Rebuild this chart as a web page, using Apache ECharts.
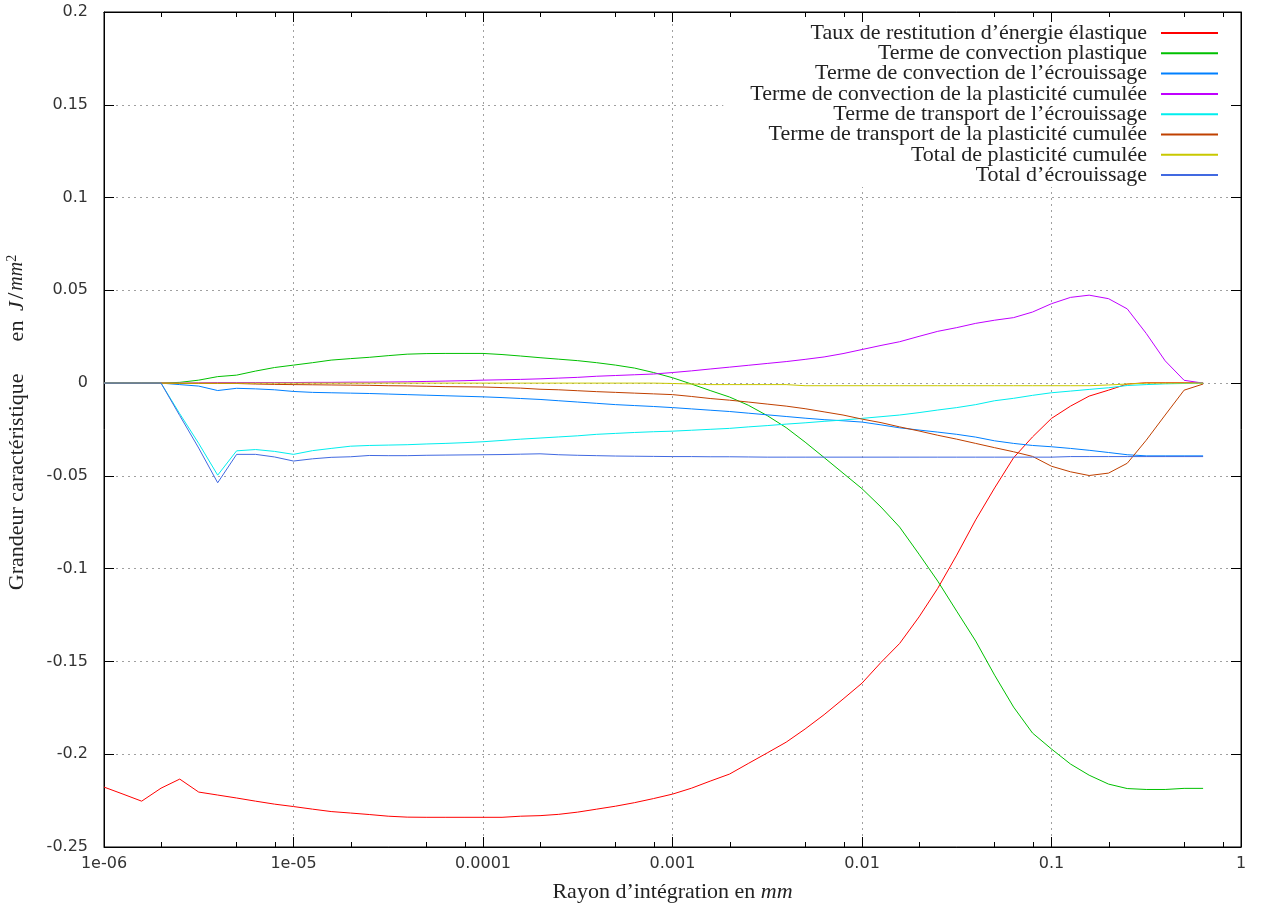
<!DOCTYPE html>
<html>
<head>
<meta charset="utf-8">
<script src="https://cdn.jsdelivr.net/npm/echarts@6/dist/echarts.min.js"></script>
<style>
html,body{margin:0;padding:0;background:#fff;}
#chart{width:1264px;height:909px;}
</style>
</head>
<body>
<div id="chart"></div>
<script>
// Sample radii (mm)
const X = [
  1e-6, 1.26e-6, 1.58e-6, 2.0e-6, 2.51e-6, 3.16e-6, 3.98e-6, 5.01e-6, 6.31e-6, 7.94e-6,
  1e-5, 1.26e-5, 1.58e-5, 2.0e-5, 2.51e-5, 3.16e-5, 3.98e-5, 5.01e-5, 6.31e-5, 7.94e-5,
  1e-4, 1.26e-4, 1.58e-4, 2.0e-4, 2.51e-4, 3.16e-4, 3.98e-4, 5.01e-4, 6.31e-4, 7.94e-4,
  1e-3, 1.26e-3, 1.58e-3, 2.0e-3, 2.51e-3, 3.16e-3, 3.98e-3, 5.01e-3, 6.31e-3, 7.94e-3,
  1e-2, 1.26e-2, 1.58e-2, 2.0e-2, 2.51e-2, 3.16e-2, 3.98e-2, 5.01e-2, 6.31e-2, 7.94e-2,
  0.1, 0.126, 0.158, 0.2, 0.251, 0.316, 0.398, 0.501, 0.631
];

const NAMES = [
  'Taux de restitution d’énergie élastique',
  'Terme de convection plastique',
  'Terme de convection de l’écrouissage',
  'Terme de convection de la plasticité cumulée',
  'Terme de transport de l’écrouissage',
  'Terme de transport de la plasticité cumulée',
  'Total de plasticité cumulée',
  'Total d’écrouissage'
];

const TAUX = [
  -0.2177, -0.2215, -0.2253, -0.2183, -0.2134, -0.2204, -0.2220, -0.2236, -0.2253, -0.2269,
  -0.2282, -0.2296, -0.2309, -0.2317, -0.2325, -0.2334, -0.2339, -0.2340, -0.2340, -0.2340,
  -0.2340, -0.2340, -0.2334, -0.2331, -0.2324, -0.2312, -0.2296, -0.2280, -0.2261, -0.2239,
  -0.2215, -0.2183, -0.2145, -0.2107, -0.2050, -0.1993, -0.1935, -0.1864, -0.1787, -0.1703,
  -0.1617, -0.1505, -0.1403, -0.1260, -0.1106, -0.0927, -0.0737, -0.0565, -0.0402, -0.0290,
  -0.0190, -0.0124, -0.0070, -0.0038, -0.0005, 0.0002, 0.0002, 0.0002, 0.0002
];

const CONV_PLAST = [
  0, 0, 0, 0, 0.0004, 0.0016, 0.0035, 0.0043, 0.0065, 0.0084,
  0.0097, 0.0110, 0.0124, 0.0132, 0.0139, 0.0148, 0.0156, 0.0159, 0.0160, 0.0160,
  0.0160, 0.0154, 0.0146, 0.0137, 0.0129, 0.0121, 0.0110, 0.0097, 0.0081, 0.0057,
  0.0029, -0.0005, -0.0040, -0.0075, -0.0119, -0.0175, -0.0240, -0.0318, -0.0401, -0.0485,
  -0.0569, -0.0668, -0.0776, -0.0922, -0.1067, -0.1229, -0.1390, -0.1574, -0.1746, -0.1886,
  -0.1972, -0.2053, -0.2113, -0.2161, -0.2185, -0.2190, -0.2190, -0.2184, -0.2184
];

const CONV_ECR = [
  0, 0, 0, 0, -0.0008, -0.0016, -0.0040, -0.0028, -0.0031, -0.0036,
  -0.0045, -0.0050, -0.0052, -0.0054, -0.0056, -0.0059, -0.0062, -0.0065, -0.0068, -0.0071,
  -0.0074, -0.0078, -0.0083, -0.0088, -0.0095, -0.0102, -0.0109, -0.0116, -0.0121, -0.0126,
  -0.0132, -0.0139, -0.0146, -0.0153, -0.0162, -0.0171, -0.0180, -0.0189, -0.0197, -0.0203,
  -0.0210, -0.0225, -0.0241, -0.0253, -0.0264, -0.0276, -0.0291, -0.0311, -0.0325, -0.0336,
  -0.0343, -0.0352, -0.0362, -0.0374, -0.0386, -0.0392, -0.0392, -0.0392, -0.0392
];

const CONV_PCUM = [
  0, 0, 0, 0, 0, 0.0002, 0.0003, 0.0003, 0.0003, 0.0003,
  0.0003, 0.0004, 0.0004, 0.0005, 0.0005, 0.0006, 0.0007, 0.0009, 0.0011, 0.0013,
  0.0016, 0.0018, 0.0020, 0.0023, 0.0027, 0.0031, 0.0037, 0.0041, 0.0045, 0.0049,
  0.0057, 0.0066, 0.0076, 0.0086, 0.0096, 0.0106, 0.0116, 0.0128, 0.0141, 0.0159,
  0.0181, 0.0203, 0.0223, 0.0252, 0.0279, 0.0299, 0.0322, 0.0339, 0.0353, 0.0383,
  0.0428, 0.0462, 0.0474, 0.0455, 0.0400, 0.0268, 0.0120, 0.0015, 0.0000
];

const TRANS_ECR = [
  0, 0, 0, 0, -0.0165, -0.0325, -0.0496, -0.0365, -0.0358, -0.0368,
  -0.0384, -0.0364, -0.0352, -0.0340, -0.0336, -0.0334, -0.0332, -0.0328, -0.0325, -0.0321,
  -0.0316, -0.0309, -0.0302, -0.0296, -0.0290, -0.0284, -0.0276, -0.0271, -0.0266, -0.0262,
  -0.0259, -0.0254, -0.0249, -0.0244, -0.0236, -0.0229, -0.0221, -0.0214, -0.0206, -0.0199,
  -0.0190, -0.0181, -0.0172, -0.0159, -0.0145, -0.0132, -0.0116, -0.0095, -0.0082, -0.0066,
  -0.0052, -0.0043, -0.0034, -0.0025, -0.0013, -0.0008, -0.0004, -0.0002, 0
];

const TRANS_PCUM = [
  0, 0, 0, 0, -0.0002, -0.0002, -0.0002, -0.0002, -0.0005, -0.0007,
  -0.0008, -0.0009, -0.0010, -0.0011, -0.0012, -0.0014, -0.0015, -0.0017, -0.0019, -0.0020,
  -0.0021, -0.0024, -0.0027, -0.0033, -0.0036, -0.0041, -0.0046, -0.0050, -0.0054, -0.0058,
  -0.0062, -0.0072, -0.0083, -0.0092, -0.0102, -0.0113, -0.0124, -0.0138, -0.0155, -0.0172,
  -0.0194, -0.0213, -0.0236, -0.0258, -0.0281, -0.0302, -0.0325, -0.0348, -0.0370, -0.0395,
  -0.0448, -0.0478, -0.0498, -0.0485, -0.0432, -0.0308, -0.0172, -0.0038, -0.0005
];

const TOTAL_PCUM = [
  0, 0, 0, 0, 0, 0, 0, 0, 0, 0,
  0, 0, 0, 0, 0, 0, 0, 0, 0, 0,
  0, 0, 0, 0, 0, 0, 0, 0, 0, 0,
  -0.0002, -0.0005, -0.0008, -0.0008, -0.0008, -0.0008, -0.0008, -0.0014, -0.0014, -0.0014,
  -0.0014, -0.0014, -0.0014, -0.0014, -0.0014, -0.0014, -0.0014, -0.0014, -0.0014, -0.0014,
  -0.0014, -0.0014, -0.0014, -0.0010, -0.0005, 0, 0, 0, 0
];

const TOTAL_ECR = [
  0, 0, 0, 0, -0.0175, -0.0350, -0.0537, -0.0384, -0.0384, -0.0398,
  -0.0420, -0.0408, -0.0400, -0.0397, -0.0390, -0.0391, -0.0391, -0.0389, -0.0388, -0.0387,
  -0.0386, -0.0385, -0.0383, -0.0381, -0.0386, -0.0389, -0.0391, -0.0393, -0.0394, -0.0395,
  -0.0396, -0.0396, -0.0397, -0.0397, -0.0398, -0.0399, -0.0399, -0.0399, -0.0399, -0.0399,
  -0.0399, -0.0399, -0.0399, -0.0399, -0.0399, -0.0399, -0.0399, -0.0399, -0.0399, -0.0399,
  -0.0399, -0.0396, -0.0396, -0.0396, -0.0396, -0.0396, -0.0396, -0.0396, -0.0396
];

const SERIES_VALUES = [TAUX, CONV_PLAST, CONV_ECR, CONV_PCUM, TRANS_ECR, TRANS_PCUM, TOTAL_PCUM, TOTAL_ECR];
const COLORS = ['#ff0000', '#00c000', '#0080ff', '#c000ff', '#00eeee', '#c04000', '#c8c800', '#4169e1'];

const X_TICK_LABELS = ['1e-06', '1e-05', '0.0001', '0.001', '0.01', '0.1', '1'];
const MINOR_X = [2e-6, 5e-6, 8e-6, 2e-5, 5e-5, 8e-5, 2e-4, 5e-4, 8e-4, 2e-3, 5e-3, 8e-3, 2e-2, 5e-2, 8e-2, 0.2, 0.5, 0.8];
const Y_MIN = -0.25, Y_MAX = 0.2, Y_STEP = 0.05;

const SERIF = 'Liberation Serif';
const SANS = 'DejaVu Sans';

const chart = echarts.init(document.getElementById('chart'), null, {renderer: 'canvas'});

const lineSeries = NAMES.map((name, i) => ({
  name: name,
  type: 'line',
  xAxisIndex: 0,
  yAxisIndex: 0,
  data: X.map((x, k) => [x, SERIES_VALUES[i][k]]),
  showSymbol: false,
  symbol: 'none',
  color: COLORS[i],
  lineStyle: {color: COLORS[i], width: 1},
  itemStyle: {color: COLORS[i]},
  emphasis: {disabled: true},
  animation: false,
  z: 3
}));

const minorTickSeries = {
  type: 'custom',
  name: 'minorTicks',
  xAxisIndex: 0,
  yAxisIndex: 0,
  silent: true,
  clip: false,
  animation: false,
  z: 6,
  data: MINOR_X.map(x => [x, 0]),
  renderItem: function (params, api) {
    const x = api.value(0);
    const b = api.coord([x, Y_MIN]);
    const t = api.coord([x, Y_MAX]);
    const px = Math.round(b[0]) + 0.5;
    return {
      type: 'group',
      children: [
        {type: 'line', shape: {x1: px, y1: b[1], x2: px, y2: b[1] - 5}, style: {stroke: '#000', lineWidth: 1}},
        {type: 'line', shape: {x1: px, y1: t[1], x2: px, y2: t[1] + 5}, style: {stroke: '#000', lineWidth: 1}}
      ]
    };
  }
};

const option = {
  backgroundColor: '#ffffff',
  animation: false,
  grid: {
    left: 104, right: 23, top: 12, bottom: 62,
    containLabel: false,
    outerBoundsMode: 'none',
    show: true, borderColor: '#000', borderWidth: 1, backgroundColor: 'transparent'
  },
  legend: {
    data: NAMES,
    orient: 'vertical',
    align: 'right',
    right: 34,
    top: 22,
    padding: [0, 11, 1, 27],
    backgroundColor: '#ffffff',
    itemWidth: 57,
    itemHeight: 20,
    itemGap: -1.7,
    selectedMode: false,
    itemStyle: {opacity: 0, borderWidth: 0},
    formatter: name => '{t|' + name + '}',
    textStyle: {
      color: '#222',
      fontFamily: SERIF,
      fontSize: 22,
      lineHeight: 20,
      rich: {
        t: {fontFamily: SERIF, fontSize: 22, lineHeight: 20, color: '#222', padding: [0, 9, 0, 0]}
      }
    }
  },
  xAxis: [
    {
      type: 'log',
      logBase: 10,
      min: 1e-6,
      max: 1,
      interval: 1,
      position: 'bottom',
      name: '{a|Rayon d’intégration en }{i|mm}',
      nameLocation: 'middle',
      nameGap: 34,
      nameTextStyle: {
        rich: {
          a: {fontFamily: SERIF, fontSize: 22, color: '#222'},
          i: {fontFamily: SERIF, fontSize: 22, fontStyle: 'italic', color: '#222'}
        }
      },
      axisLine: {show: true, onZero: false, lineStyle: {color: '#000', width: 1}},
      axisTick: {show: true, inside: true, length: 10, lineStyle: {color: '#000', width: 1}},
      axisLabel: {
        show: true,
        margin: 9,
        fontFamily: SANS,
        fontSize: 16,
        color: '#333',
        showMinLabel: true,
        showMaxLabel: true,
        formatter: v => X_TICK_LABELS[Math.round(Math.log10(v)) + 6]
      },
      splitLine: {show: true, lineStyle: {color: '#a0a0a0', type: [2, 4], width: 1}},
      minorTick: {show: false},
      minorSplitLine: {show: false}
    },
    {
      type: 'log',
      logBase: 10,
      min: 1e-6,
      max: 1,
      interval: 1,
      position: 'top',
      axisLine: {show: true, onZero: false, lineStyle: {color: '#000', width: 1}},
      axisTick: {show: true, inside: true, length: 10, lineStyle: {color: '#000', width: 1}},
      axisLabel: {show: false},
      splitLine: {show: false}
    }
  ],
  yAxis: [
    {
      type: 'value',
      min: Y_MIN,
      max: Y_MAX,
      interval: Y_STEP,
      position: 'left',
      name: '{a0|Grandeur caractéristique}{b|en }{i|J}{d|/}{m|mm}{s|2}',
      nameLocation: 'middle',
      nameRotate: 90,
      nameGap: 75,
      nameTextStyle: {
        rich: {
          a0: {fontFamily: SERIF, fontSize: 22, color: '#222', padding: [0, 0, 0, 14]},
          b: {fontFamily: SERIF, fontSize: 22, color: '#222', padding: [0, 4, 0, 32]},
          i: {fontFamily: SERIF, fontSize: 22, fontStyle: 'italic', color: '#222'},
          d: {fontFamily: SERIF, fontSize: 24, color: '#222', padding: [0, 2, 0, 2]},
          m: {fontFamily: SERIF, fontSize: 20, fontStyle: 'italic', color: '#222'},
          s: {fontFamily: SERIF, fontSize: 14, color: '#222', verticalAlign: 'top'}
        }
      },
      axisLine: {show: true, onZero: false, lineStyle: {color: '#000', width: 1}},
      axisTick: {show: true, inside: true, length: 10, lineStyle: {color: '#000', width: 1}},
      axisLabel: {
        show: true,
        margin: 16,
        fontFamily: SANS,
        fontSize: 16,
        color: '#333',
        formatter: v => String(parseFloat(v.toFixed(2)))
      },
      splitLine: {show: true, lineStyle: {color: '#a0a0a0', type: [2, 4], width: 1}}
    },
    {
      type: 'value',
      min: Y_MIN,
      max: Y_MAX,
      interval: Y_STEP,
      position: 'right',
      axisLine: {show: true, onZero: false, lineStyle: {color: '#000', width: 1}},
      axisTick: {show: true, inside: true, length: 10, lineStyle: {color: '#000', width: 1}},
      axisLabel: {show: false},
      splitLine: {show: false}
    }
  ],
  series: lineSeries.concat([minorTickSeries])
};

chart.setOption(option);
</script>
</body>
</html>
